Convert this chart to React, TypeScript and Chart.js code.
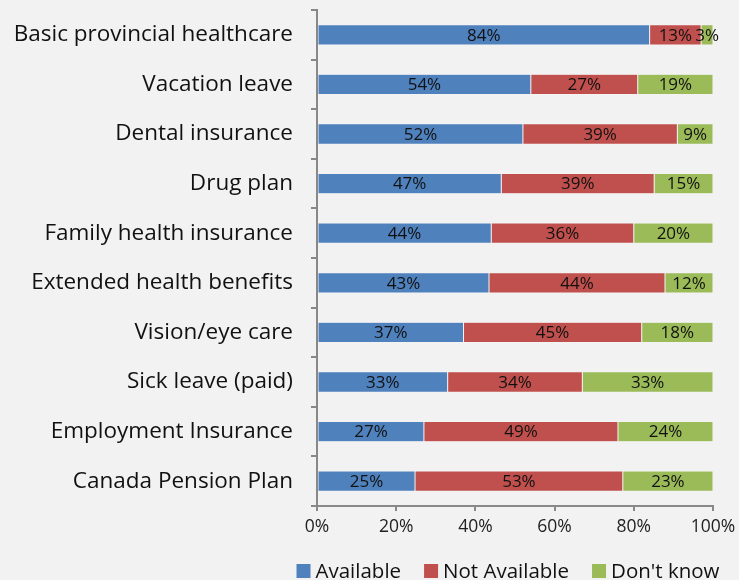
import React, { useEffect, useRef } from "react";
import { Chart, registerables } from "chart.js";

Chart.register(...registerables);

const categories = [
  "Basic provincial healthcare",
  "Vacation leave",
  "Dental insurance",
  "Drug plan",
  "Family health insurance",
  "Extended health benefits",
  "Vision/eye care",
  "Sick leave (paid)",
  "Employment Insurance",
  "Canada Pension Plan",
];
const available = [84, 54, 52, 47, 44, 43, 37, 33, 27, 25];
const notAvailable = [13, 27, 39, 39, 36, 44, 45, 34, 49, 53];
const dontKnow = [3, 19, 9, 15, 20, 12, 18, 33, 24, 23];
const seriesNames = ["Available", "Not Available", "Don't know"];
const xTicks = ["0%", "20%", "40%", "60%", "80%", "100%"];

const FONT = "'Open Sans', 'Noto Sans', sans-serif";

export default function App() {
  const ref = useRef<HTMLCanvasElement | null>(null);

  useEffect(() => {
    const raw = [available, notAvailable, dontKnow];
    const totals = categories.map((_, i) => raw.reduce((s, a) => s + a[i], 0));
    const norm = raw.map((arr) => arr.map((v, i) => (v / totals[i]) * 100));
    const colors = ["#4f81bd", "#c0504d", "#9bbb59"];

    const labelPlugin = {
      id: "inlineLabels",
      afterDatasetsDraw(chart: any) {
        const ctx = chart.ctx;
        ctx.save();
        ctx.font = `17px ${FONT}`;
        ctx.fillStyle = "#111";
        ctx.textAlign = "center";
        ctx.textBaseline = "middle";
        chart.data.datasets.forEach((_: any, di: number) => {
          const meta = chart.getDatasetMeta(di);
          meta.data.forEach((bar: any, i: number) => {
            const p = bar.getProps(["x", "y", "base"], true);
            ctx.fillText(raw[di][i] + "%", (p.x + p.base) / 2, p.y + 1);
          });
        });
        ctx.restore();
      },
    };

    const legendPlugin = {
      id: "customLegend",
      afterDraw(chart: any) {
        const ctx = chart.ctx;
        ctx.save();
        ctx.font = `20.5px ${FONT}`;
        ctx.textBaseline = "middle";
        ctx.textAlign = "left";
        const box = 14;
        const gap = 5;
        const spacing = 23;
        const widths = seriesNames.map((n) => box + gap + ctx.measureText(n).width);
        const total = widths.reduce((s, w) => s + w, 0) + spacing * (widths.length - 1);
        const area = chart.chartArea;
        let x = (area.left + area.right) / 2 - 7 - total / 2;
        const cy = 571;
        seriesNames.forEach((n, i) => {
          ctx.fillStyle = colors[i];
          ctx.fillRect(x, cy - box / 2, box, box);
          ctx.fillStyle = "#111";
          ctx.fillText(n, x + box + gap, cy + 1);
          x += widths[i] + spacing;
        });
        ctx.restore();
      },
    };

    const chart = new Chart(ref.current as HTMLCanvasElement, {
      type: "bar",
      data: {
        labels: categories,
        datasets: norm.map((d, i) => ({
          label: seriesNames[i],
          data: d,
          backgroundColor: colors[i],
          borderColor: "rgba(255,255,255,0.5)",
          borderWidth: 0.5,
          borderSkipped: false,
          barPercentage: 0.41,
          categoryPercentage: 1,
        })),
      },
      options: {
        indexAxis: "y",
        animation: false,
        responsive: true,
        maintainAspectRatio: false,
        layout: { padding: { top: 10, right: 26, left: 0, bottom: 36 } },
        scales: {
          x: {
            stacked: true,
            min: 0,
            max: 100,
            afterFit(scale: any) {
              scale.height = 38;
              scale.paddingLeft = 0;
              scale.paddingRight = 0;
            },
            grid: {
              drawOnChartArea: false,
              drawTicks: true,
              tickLength: 5,
              color: "#888",
              lineWidth: 2,
            },
            border: { color: "#888", width: 2 },
            ticks: {
              stepSize: 20,
              color: "#222",
              font: { size: 17.5, family: FONT },
              padding: 6,
              callback: (v: any) => xTicks[Math.round(Number(v) / 20)],
            },
          },
          y: {
            stacked: true,
            afterFit(scale: any) {
              scale.width = 317;
              scale.paddingTop = 0;
              scale.paddingBottom = 0;
            },
            grid: {
              drawOnChartArea: false,
              drawTicks: true,
              tickLength: 6,
              offset: true,
              color: "#888",
              lineWidth: 2,
            },
            border: { color: "#888", width: 2 },
            ticks: {
              color: "#111",
              font: { size: 22.5, family: FONT },
              padding: 18,
            },
          },
        },
        plugins: {
          legend: { display: false },
          tooltip: { enabled: false },
        },
      },
      plugins: [labelPlugin, legendPlugin],
    });
    return () => chart.destroy();
  }, []);

  return (
    <div
      style={{
        position: "fixed",
        left: 0,
        top: 0,
        width: 739,
        height: 580,
        background: "#f2f2f2",
      }}
    >
      <canvas ref={ref} />
    </div>
  );
}
